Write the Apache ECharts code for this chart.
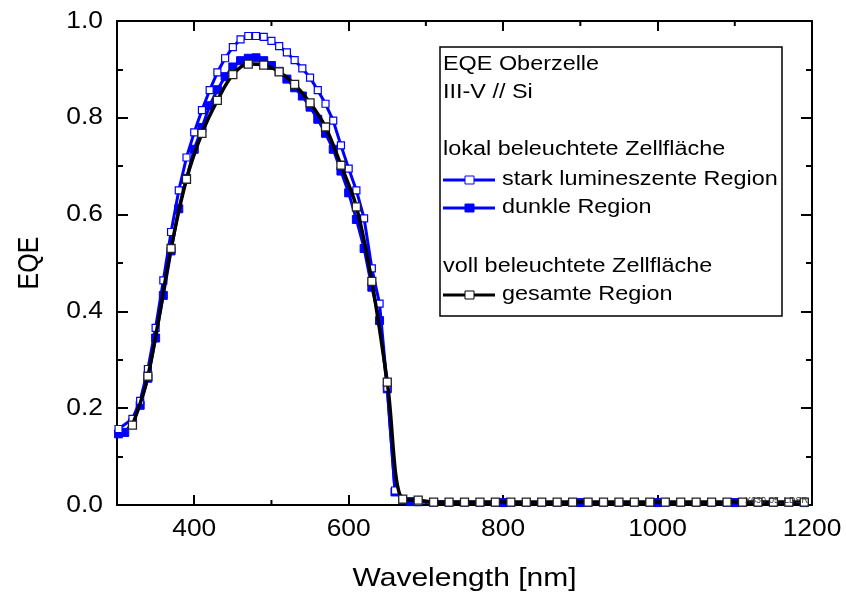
<!DOCTYPE html>
<html>
<head>
<meta charset="utf-8">
<script src="https://cdn.jsdelivr.net/npm/echarts@6/dist/echarts.min.js"></script>
<style>html,body{margin:0;padding:0;background:#fff}#c{width:846px;height:594px}</style>
</head>
<body>
<div id="c"></div>
<script>
// stark lumineszente Region (lokal beleuchtet)
const starkX = [302,320,330,340,350,360,370,380,390,400,410,420,430,440,450,460,470,480,490,500,510,520,530,540,550,560,570,580,590,600,610,620,630,640,650,660,670,690,710,730,750,770,790,810,830,850,870,890,910,930,950,970,990,1010,1030,1050,1070,1090,1110,1130,1150,1170,1190];
const starkY = [0.157,0.178,0.215,0.281,0.366,0.464,0.564,0.650,0.718,0.770,0.816,0.857,0.894,0.923,0.946,0.962,0.969,0.969,0.967,0.959,0.948,0.935,0.919,0.902,0.883,0.857,0.829,0.794,0.743,0.695,0.650,0.592,0.489,0.416,0.242,0.030,0.010,0.006,0.005,0.005,0.005,0.005,0.005,0.005,0.005,0.005,0.005,0.005,0.005,0.005,0.005,0.005,0.005,0.005,0.005,0.005,0.005,0.005,0.005,0.005,0.005,0.005,0.005];
// dunkle Region (lokal beleuchtet)
const dunkelX = [302,310,320,330,340,350,360,370,380,390,400,410,420,430,440,450,460,470,480,490,500,510,520,530,540,550,560,570,580,590,600,610,620,630,640,650,660,680,800,900,1000,1100,1190];
const dunkelY = [0.147,0.150,0.170,0.206,0.262,0.345,0.433,0.525,0.612,0.675,0.735,0.780,0.825,0.858,0.885,0.905,0.918,0.923,0.924,0.918,0.908,0.896,0.880,0.862,0.845,0.822,0.797,0.768,0.735,0.690,0.645,0.590,0.530,0.450,0.381,0.240,0.027,0.007,0.005,0.005,0.005,0.005,0.005];
// gesamte Region (voll beleuchtet)
const gesamtX = [320,340,370,390,410,430,450,470,490,510,530,550,570,590,610,630,650,670,690,710,730,750,770,790,810,830,850,870,890,910,930,950,970,990,1010,1030,1050,1070,1090,1110,1130,1150,1170,1190];
const gesamtY = [0.165,0.266,0.530,0.673,0.768,0.836,0.889,0.911,0.909,0.895,0.869,0.831,0.781,0.702,0.616,0.462,0.254,0.012,0.010,0.006,0.006,0.006,0.006,0.006,0.006,0.006,0.006,0.006,0.006,0.006,0.006,0.006,0.006,0.006,0.006,0.006,0.006,0.006,0.006,0.006,0.006,0.006,0.006,0.006];

const xTicks = [400,600,800,1000,1200];
const xMinorTicks = [500,700,900,1100];
const yTicks = [0,0.2,0.4,0.6,0.8,1.0];
const legendLines = ['EQE Oberzelle','III-V // Si','','lokal beleuchtete Zellfläche','stark lumineszente Region','dunkle Region','','voll beleuchtete Zellfläche','gesamte Region'];
const xTitle = 'Wavelength [nm]';
const yTitle = 'EQE';
const stamp = 'X630-05, LDSR';

const zip = (a,b)=>a.map((v,i)=>[v,b[i]]);
const FONT = "'Liberation Sans', Arial, sans-serif";
const SX = 1.2; // horizontal stretch of the reference lettering
const chart = echarts.init(document.getElementById('c'), null, {renderer:'canvas'});

const lineStyle = {color:'#000',width:2};
function xAxisDef(pos){
  return {type:'value',min:300,max:1200,interval:100,position:pos,
    axisLine:{show:true,onZero:false,lineStyle:lineStyle},
    axisTick:{show:true,inside:true,length:10,customValues:xTicks,lineStyle:lineStyle},
    axisLabel:{show:false},splitLine:{show:false}};
}
function yAxisDef(pos){
  return {type:'value',min:0,max:1,interval:0.2,position:pos,
    axisLine:{show:true,onZero:false,lineStyle:lineStyle},
    axisTick:{show:true,inside:true,length:11,lineStyle:lineStyle},
    minorTick:{show:true,splitNumber:2,length:6,lineStyle:lineStyle},
    axisLabel:{show:false},splitLine:{show:false}};
}

chart.setOption({
  animation:false,
  backgroundColor:'#fff',
  grid:{left:117,right:34,top:21,bottom:89},
  xAxis:[xAxisDef('bottom'),xAxisDef('top')],
  yAxis:[yAxisDef('left'),yAxisDef('right')],
  series:[
    {name:'dunkle Region',type:'line',data:zip(dunkelX,dunkelY),symbol:'rect',symbolSize:8,showAllSymbol:true,
      lineStyle:{color:'#0000ff',width:3},itemStyle:{color:'#0000ff',borderColor:'#0000ff',borderWidth:1},z:2},
    {name:'stark lumineszente Region',type:'line',data:zip(starkX,starkY),symbol:'rect',symbolSize:7,showAllSymbol:true,
      lineStyle:{color:'#0000ff',width:3},itemStyle:{color:'#fff',borderColor:'#0000ff',borderWidth:1.2},z:3},
    {name:'gesamte Region',type:'line',data:zip(gesamtX,gesamtY),symbol:'rect',symbolSize:8,showAllSymbol:true,smooth:0.35,
      lineStyle:{color:'#000',width:3.5},itemStyle:{color:'#fff',borderColor:'#222',borderWidth:1.3},z:4}
  ]
});

// Axis lettering and minor ticks placed through the chart's own scales
const px = v => chart.convertToPixel({xAxisIndex:0}, v);
const py = v => chart.convertToPixel({yAxisIndex:0}, v);
const x0 = px(300), x1 = px(1200), y0 = py(0), y1 = py(1);
const g = [];
xTicks.forEach(v=>{
  g.push({type:'text',x:px(v),y:y0+12,scaleX:1.1,style:{text:String(v),font:'24px '+FONT,fill:'#000',textAlign:'center',textVerticalAlign:'top'}});
});
yTicks.forEach(v=>{
  g.push({type:'text',x:x0-14,y:py(v),scaleX:1.1,style:{text:v.toFixed(1),font:'24px '+FONT,fill:'#000',textAlign:'right',textVerticalAlign:'middle'}});
});
xMinorTicks.forEach(v=>{
  g.push({type:'line',shape:{x1:px(v),y1:y0,x2:px(v),y2:y0-5},style:{stroke:'#000',lineWidth:2}});
  g.push({type:'line',shape:{x1:px(v),y1:y1,x2:px(v),y2:y1+5},style:{stroke:'#000',lineWidth:2}});
});
g.push({type:'text',x:(x0+x1)/2,y:579,scaleX:SX,style:{text:xTitle,font:'25px '+FONT,fill:'#000',textAlign:'center',textVerticalAlign:'middle'}});
g.push({type:'text',x:30,y:(y0+y1)/2,rotation:Math.PI/2,scaleY:SX,style:{text:yTitle,font:'25px '+FONT,fill:'#000',textAlign:'center',textVerticalAlign:'middle'}});

// legend box
const L = 440, T = 47, R = 782, B = 316;
const rowY = [65,93,121,150,180,208,238,267,295];
g.push({type:'rect',shape:{x:L,y:T,width:R-L,height:B-T},style:{fill:'#fff',stroke:'#000',lineWidth:1.5},z:100});
legendLines.forEach((t,i)=>{
  if(!t) return;
  const isItem = (i===4||i===5||i===8);
  g.push({type:'text',x:isItem?502:443,y:rowY[i],scaleX:SX,style:{text:t,font:'19.5px '+FONT,fill:'#000',textVerticalAlign:'middle'},z:101});
});
function legSym(y,color,fill,stroke){
  g.push({type:'line',shape:{x1:443,y1:y,x2:495,y2:y},style:{stroke:color,lineWidth:3},z:101});
  g.push({type:'rect',shape:{x:465,y:y-4,width:9,height:8},style:{fill:fill,stroke:stroke,lineWidth:1},z:102});
}
legSym(rowY[4],'#0000ff','#fff','#0000ff');
legSym(rowY[5],'#0000ff','#0000ff','#0000ff');
legSym(rowY[8],'#000','#fff','#000');
g.push({type:'text',x:808,y:501,style:{text:stamp,font:'9px '+FONT,fill:'#333',textAlign:'right',textVerticalAlign:'middle'},z:101});

chart.setOption({graphic:g});
</script>
</body>
</html>
